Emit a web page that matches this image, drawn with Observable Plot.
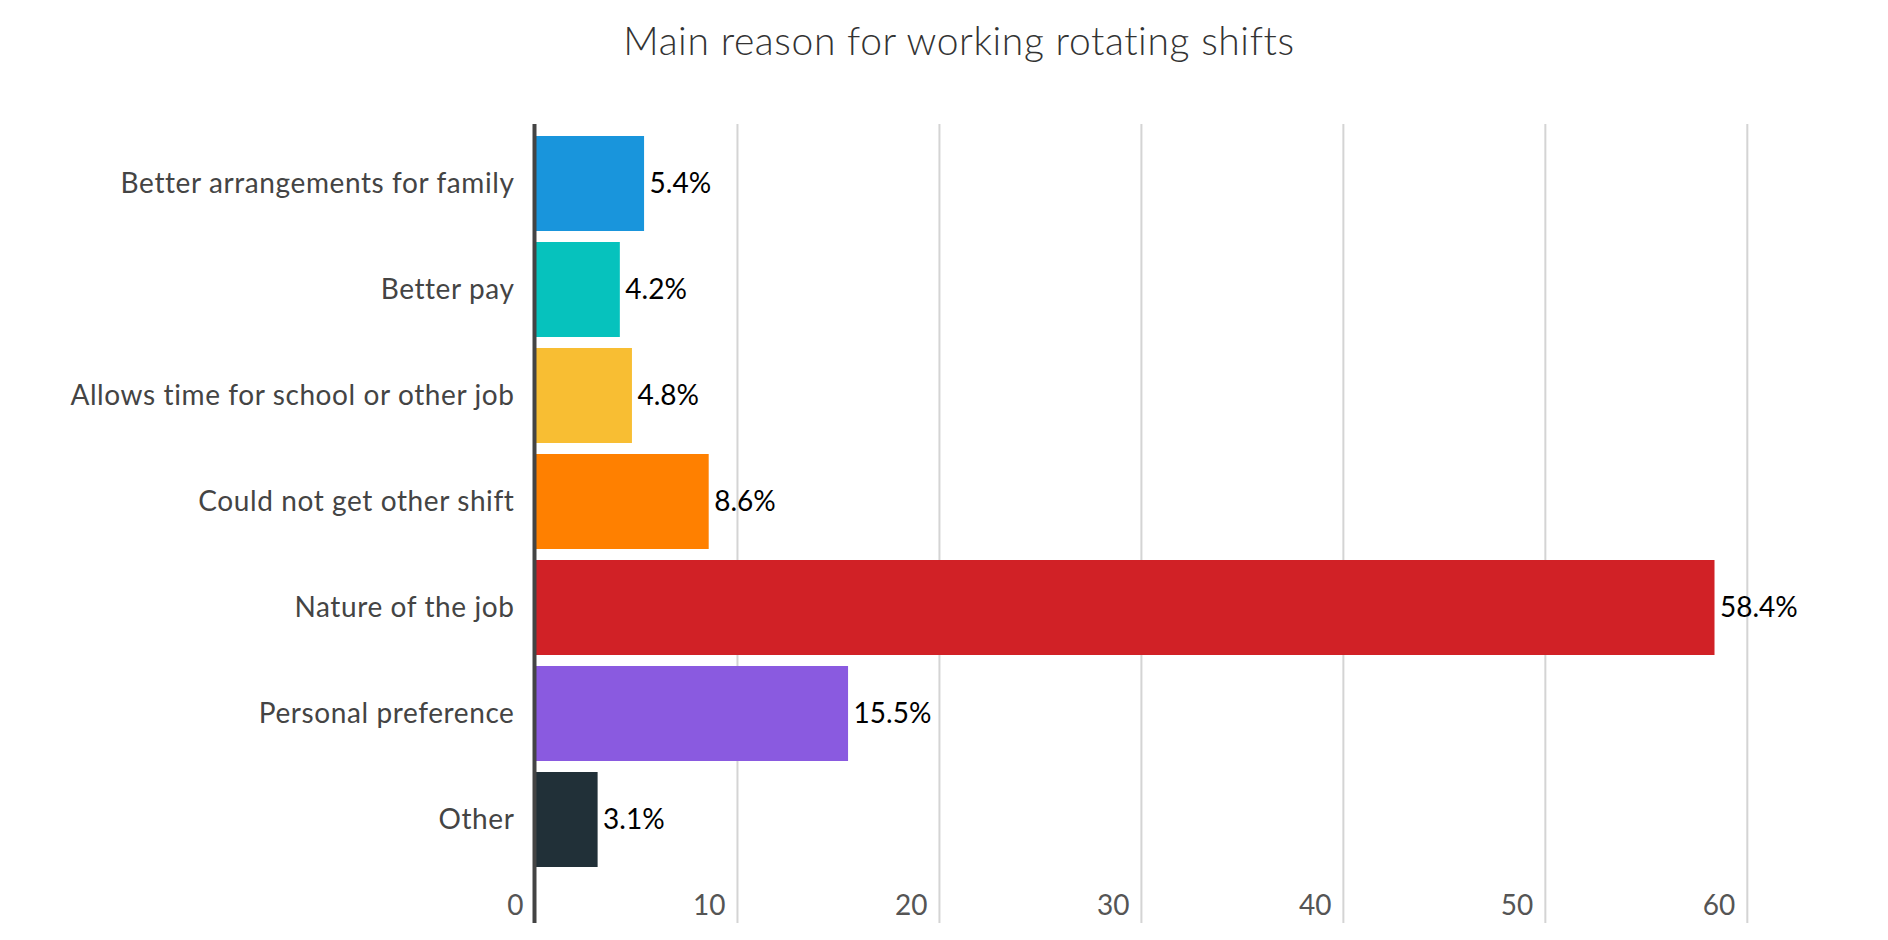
<!DOCTYPE html>
<html>
<head>
<meta charset="utf-8">
<script src="https://cdn.jsdelivr.net/npm/d3@7"></script>
<script src="https://cdn.jsdelivr.net/npm/@observablehq/plot@0.6"></script>
<style>
  html, body { margin: 0; padding: 0; background: #fff; }
  #wrap { position: relative; width: 1888px; height: 940px; overflow: hidden; }
  #subtitle { position: absolute; left: 30px; top: 17px; width: 1858px; text-align: center;
    font-family: Lato, sans-serif; font-weight: 300; font-size: 39px; letter-spacing: 0.6px; color: #333; line-height: 1.2; }
  #chart { position: absolute; left: 0; top: 0; }
  #chart g[aria-label="y-axis tick label"] { letter-spacing: 0.6px; }
  #chart g[aria-label="value labels"] { letter-spacing: 0.6px; }
</style>
</head>
<body>
<div id="wrap">
  <div id="chart"></div>
  <div id="subtitle">Main reason for working rotating shifts</div>
</div>
<script>
const categories = [
  "Better arrangements for family",
  "Better pay",
  "Allows time for school or other job",
  "Could not get other shift",
  "Nature of the job",
  "Personal preference",
  "Other"
];
const values = [5.4, 4.2, 4.8, 8.6, 58.4, 15.5, 3.1];
const colors = ["#1995dc", "#06c2bd", "#f8be33", "#ff8000", "#d12126", "#8a5ae0", "#213038"];
const xTicks = [0, 10, 20, 30, 40, 50, 60];

const data = categories.map((c, i) => ({category: c, value: values[i], color: colors[i]}));

const chart = Plot.plot({
  width: 1888,
  height: 940,
  marginTop: 124,
  marginBottom: 17,
  marginLeft: 535,
  marginRight: 20,
  style: {fontFamily: "Lato, sans-serif", fontSize: "26px", color: "#444", background: "white"},
  x: {domain: [0, 66], axis: null},
  y: {domain: categories, range: [124, 880], padding: 0.1, label: null},
  marks: [
    Plot.ruleX(xTicks.filter(d => d > 0), {stroke: "#d4d4d4", strokeWidth: 2}),
    Plot.barX(data, {x: "value", y: "category", fill: "color"}),
    Plot.ruleX([0], {stroke: "#444", strokeWidth: 4, dx: -1}),
    Plot.axisY({tickSize: 0, tickPadding: 21, fontSize: 28, fill: "#444", label: null}),
    Plot.text(data, {x: "value", y: "category", text: d => d.value.toFixed(1) + "%",
      textAnchor: "start", dx: 5, fontSize: 28, fill: "#000", ariaLabel: "value labels"}),
    Plot.text(xTicks, {x: d => d, text: d => String(d), frameAnchor: "bottom", dy: -9,
      dx: -12, textAnchor: "end", fontSize: 28, fill: "#555"})
  ]
});
document.getElementById("chart").appendChild(chart);
</script>
</body>
</html>
